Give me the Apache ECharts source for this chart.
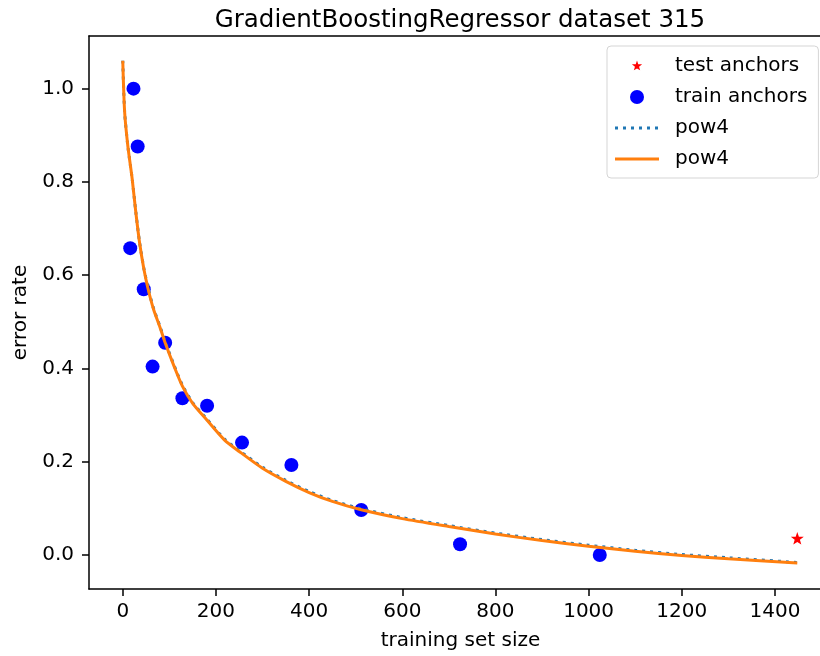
<!DOCTYPE html>
<html><head><meta charset="utf-8">
<script src="https://cdn.jsdelivr.net/npm/echarts@6/dist/echarts.min.js"></script>
<style>html,body{margin:0;padding:0;background:#fff}#c{width:820px;height:656px}</style>
</head><body><div id="c"></div>
<script>
const trainX = [16, 23, 32, 45, 64, 91, 128, 181, 256, 362, 512, 724, 1024];
const trainY = [0.658, 1.0, 0.876, 0.570, 0.404, 0.455, 0.336, 0.320, 0.241, 0.193, 0.0965, 0.023, 0.0];
const testX = [1448];
const testY = [0.036];
const curveX = [0, 4, 11, 20, 28, 36, 45, 54, 66, 80, 91, 110, 128, 150, 180, 218, 250, 300, 350, 400, 450, 512, 600, 700, 800, 900, 1000, 1100, 1200, 1300, 1448];
const solidY = [1.06, 0.95, 0.876, 0.808, 0.735, 0.67, 0.615, 0.572, 0.527, 0.488, 0.455, 0.405, 0.362, 0.325, 0.29, 0.247, 0.222, 0.186, 0.158, 0.134, 0.115, 0.097, 0.078, 0.061, 0.045, 0.031, 0.019, 0.008, -0.001, -0.008, -0.017];
const dottedY = [1.06, 0.95, 0.876, 0.808, 0.736, 0.671, 0.616, 0.574, 0.529, 0.49, 0.457, 0.407, 0.364, 0.327, 0.292, 0.249, 0.224, 0.188, 0.16, 0.136, 0.117, 0.099, 0.08, 0.063, 0.047, 0.033, 0.021, 0.01, 0.001, -0.006, -0.016];
const xTicks = [0, 200, 400, 600, 800, 1000, 1200, 1400];
const yTicks = [0.0, 0.2, 0.4, 0.6, 0.8, 1.0];
const titleText = 'GradientBoostingRegressor dataset 315';

const FONT = 'DejaVu Sans';
const FS = 20;
const STAR = 'path://M0,-10 L2.35,-3.24 L9.51,-3.09 L3.8,1.24 L5.88,8.09 L0,4.5 L-5.88,8.09 L-3.8,1.24 L-9.51,-3.09 L-2.35,-3.24 Z';
const STAR_SMALL = 'path://M-13,-13 M13,13 M0,-10 L2.35,-3.24 L9.51,-3.09 L3.8,1.24 L5.88,8.09 L0,4.5 L-5.88,8.09 L-3.8,1.24 L-9.51,-3.09 L-2.35,-3.24 Z';
const SOLID_ICON = 'path://M0,0 M44,14 M0,5.5 L44,5.5 L44,8.5 L0,8.5 Z';
let dots = 'path://M0,0 M44,14';
for (let i = 0; i < 6; i++) { const x = i * 8; dots += ` M${x},5.5 L${x + 3},5.5 L${x + 3},8.5 L${x},8.5 Z`; }
const DOTTED_ICON = dots;
const zip = (xs, ys) => xs.map((x, i) => [x, ys[i]]);

const chart = echarts.init(document.getElementById('c'));
chart.setOption({
  animation: false,
  backgroundColor: '#fff',
  title: {
    text: titleText, left: 455, top: 3, textAlign: 'center',
    textStyle: { fontFamily: FONT, fontSize: 24.5, fontWeight: 'normal', color: '#000' }
  },
  grid: { left: 89, top: 36, width: 743, height: 553, containLabel: false, outerBoundsMode: 'none' },
  legend: {
    orient: 'vertical', left: 607, top: 46,
    padding: [10, 11, 9, 8], itemGap: 11,
    itemWidth: 44, itemHeight: 14,
    backgroundColor: '#fff', borderColor: '#d5d5d5', borderWidth: 1, borderRadius: 4,
    textStyle: { fontFamily: FONT, fontSize: FS, color: '#000', padding: [0, 0, 0, 11] },
    data: [
      { name: 'test anchors', icon: STAR_SMALL },
      { name: 'train anchors', icon: 'circle' },
      { name: 'pow4', icon: DOTTED_ICON },
      { name: 'pow4 ', icon: SOLID_ICON }
    ]
  },
  xAxis: [{
    type: 'value', min: -72.5, max: 1522.5,
    name: 'training set size', nameLocation: 'middle', nameGap: 42,
    nameTextStyle: { fontFamily: FONT, fontSize: FS, color: '#000' },
    axisLine: { onZero: false, lineStyle: { color: '#000', width: 1.5 } },
    axisTick: { show: true, length: 7, lineStyle: { color: '#000', width: 1.5 }, customValues: xTicks },
    axisLabel: { fontFamily: FONT, fontSize: FS, color: '#000', margin: 13, customValues: xTicks,
      formatter: v => String(v) },
    splitLine: { show: false }
  }, {
    type: 'value', position: 'top', min: -72.5, max: 1522.5,
    axisLine: { show: true, onZero: false, lineStyle: { color: '#000', width: 1.5 } },
    axisTick: { show: false }, axisLabel: { show: false }, splitLine: { show: false }
  }],
  yAxis: {
    type: 'value', min: -0.0729, max: 1.1129,
    name: 'error rate', nameLocation: 'middle', nameGap: 57, nameRotate: 90,
    nameTextStyle: { fontFamily: FONT, fontSize: FS, color: '#000' },
    axisLine: { show: true, onZero: false, lineStyle: { color: '#000', width: 1.5 } },
    axisTick: { show: true, length: 7, lineStyle: { color: '#000', width: 1.5 }, customValues: yTicks },
    axisLabel: { fontFamily: FONT, fontSize: FS, color: '#000', margin: 15, customValues: yTicks,
      formatter: v => Number(v).toFixed(1) },
    splitLine: { show: false }
  },
  series: [
    {
      name: 'test anchors', type: 'scatter', symbol: STAR, symbolSize: 13, symbolKeepAspect: true,
      itemStyle: { color: '#ff0000', opacity: 1 }, data: zip(testX, testY)
    },
    {
      name: 'train anchors', type: 'scatter', symbol: 'circle', symbolSize: 14,
      itemStyle: { color: '#0000ff', opacity: 1 }, data: zip(trainX, trainY)
    },
    {
      name: 'pow4', type: 'line', symbol: 'none', smooth: 0.25,
      lineStyle: { color: '#1f77b4', width: 3, type: [3, 5] }, itemStyle: { color: '#1f77b4' },
      data: zip(curveX, dottedY)
    },
    {
      name: 'pow4 ', type: 'line', symbol: 'none', smooth: 0.25,
      lineStyle: { color: '#ff7f0e', width: 3 }, itemStyle: { color: '#ff7f0e' },
      data: zip(curveX, solidY)
    }
  ]
});
</script>
</body></html>
